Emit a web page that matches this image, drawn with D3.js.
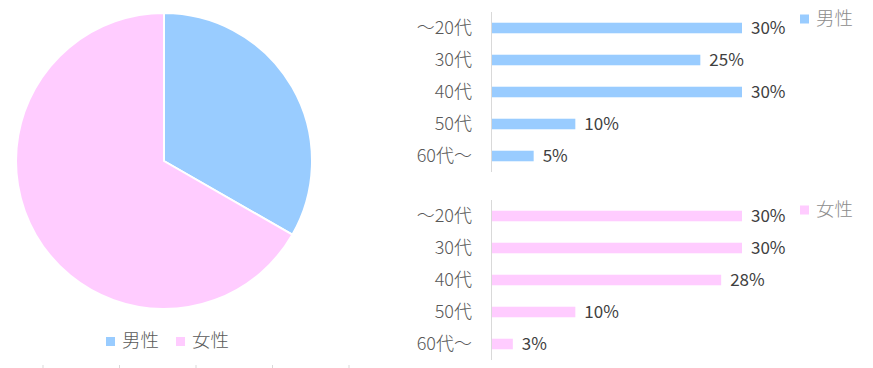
<!DOCTYPE html>
<html><head><meta charset="utf-8">
<script src="https://cdn.jsdelivr.net/npm/d3@7"></script>
<style>
body{margin:0;background:#fff;}
svg{display:block;font-family:"Noto Sans CJK JP","Noto Sans",sans-serif;}
</style></head>
<body><svg id="c" width="873" height="368"></svg>
<script>
const genders = ["男性", "女性"];
const genderShare = [33.3, 66.7];
const colors = ["#99CCFF", "#FFCCFF"];
const ageGroups = ["～20代", "30代", "40代", "50代", "60代～"];
const maleValues = [30, 25, 30, 10, 5];
const femaleValues = [30, 30, 27.5, 10, 2.5];
const bottomTicks = [0, 1, 2, 3, 4];

const svg = d3.select("#c");

// Pie
const cx = 164, cy = 161, r = 148;
const pie = d3.pie().sort(null).value(d => d)(genderShare);
const arc = d3.arc().innerRadius(0).outerRadius(r);
svg.append("g").attr("transform", `translate(${cx},${cy})`)
  .selectAll("path").data(pie).join("path")
  .attr("d", arc).attr("fill", (d, i) => colors[i])
  .attr("stroke", "#fff").attr("stroke-width", 2);

// Pie legend
const lg = svg.append("g");
const legX = [106, 176];
genders.forEach((g, i) => {
  lg.append("rect").attr("x", legX[i]).attr("y", 337).attr("width", 9).attr("height", 9).attr("fill", colors[i]);
  lg.append("text").attr("x", legX[i] + 16).attr("y", 340.5).attr("dy", "0.35em")
    .attr("font-size", 18.5).attr("font-weight", 300).attr("fill", "#595959").text(g);
});

// bottom ticks
const tx = d3.scaleLinear().domain([0, 4]).range([43, 349]);
svg.append("g").selectAll("line").data(bottomTicks).join("line")
  .attr("x1", d => tx(d)).attr("x2", d => tx(d)).attr("y1", 365).attr("y2", 368)
  .attr("stroke", "#d9d9d9");

// Bar charts
const x = d3.scaleLinear().domain([0, 30]).range([492, 742]);
function barChart(values, top, color, name, legendY) {
  const y = d3.scaleBand().domain(ageGroups).range([top, top + 160]).paddingInner(0.67).paddingOuter(0.335);
  const g = svg.append("g");
  g.selectAll("rect").data(values).join("rect")
    .attr("x", x(0)).attr("y", (d, i) => y(ageGroups[i]))
    .attr("width", d => x(d) - x(0)).attr("height", y.bandwidth())
    .attr("fill", color);
  g.append("line").attr("x1", 491.5).attr("x2", 491.5).attr("y1", top).attr("y2", top + 160)
    .attr("stroke", "#d9d9d9").attr("stroke-width", 1);
  g.selectAll("text.cat").data(ageGroups).join("text").attr("class", "cat")
    .attr("x", 472).attr("y", d => y(d) + y.bandwidth() / 2).attr("dy", "0.35em")
    .attr("text-anchor", "end").attr("font-size", 18).attr("font-weight", 300).attr("fill", "#595959").text(d => d);
  g.selectAll("text.val").data(values).join("text").attr("class", "val")
    .attr("x", d => x(d) + 9).attr("y", (d, i) => y(ageGroups[i]) + y.bandwidth() / 2).attr("dy", "0.35em")
    .attr("font-size", 17).attr("fill", "#404040").text(d => Math.round(d) + "%");
  g.append("rect").attr("x", 800).attr("y", legendY - 4.5).attr("width", 9).attr("height", 9).attr("fill", color);
  g.append("text").attr("x", 816).attr("y", legendY).attr("dy", "0.35em")
    .attr("font-size", 18.5).attr("font-weight", 300).attr("fill", "#8c8c8c").text(name);
}
barChart(maleValues, 12, colors[0], genders[0], 19);
barChart(femaleValues, 200, colors[1], genders[1], 210);
</script></body></html>
